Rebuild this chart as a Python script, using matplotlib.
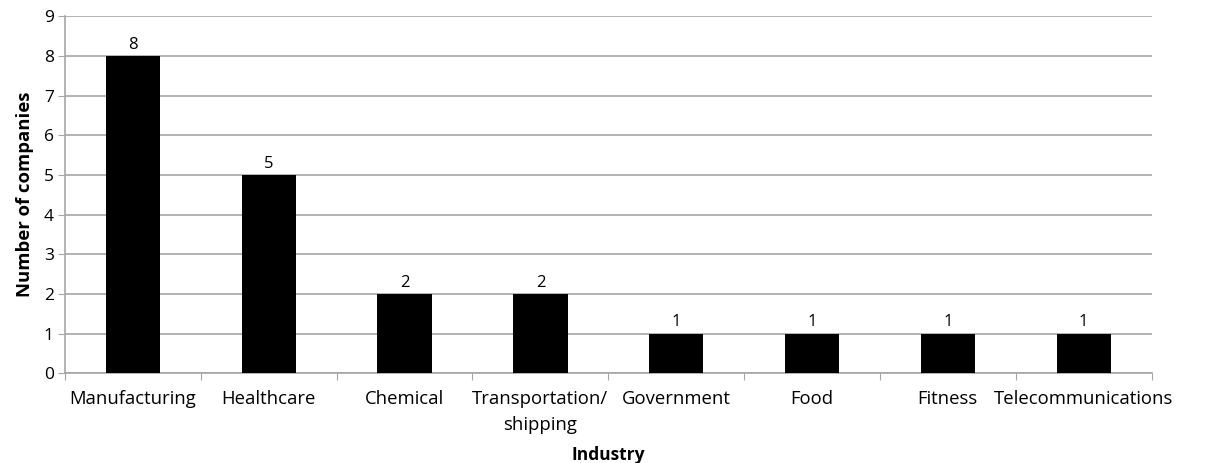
import numpy as np
import matplotlib.pyplot as plt

plt.rcParams['font.family'] = ['Open Sans', 'DejaVu Sans']

industries = ["Manufacturing", "Healthcare", "Chemical", "Transportation/\nshipping",
              "Government", "Food", "Fitness", "Telecommunications"]
counts = [8, 5, 2, 2, 1, 1, 1, 1]

fig = plt.figure(figsize=(12.06, 4.63), dpi=100)
ax = fig.add_axes([0.0539, 0.194, 0.901, 0.771])

x = np.arange(len(industries))
bars = ax.bar(x, counts, width=0.4, color='black', zorder=3)
for xi, c in zip(x, counts):
    ax.text(xi, c + 0.08, str(c), ha='center', va='bottom', fontsize=12)

ax.set_xlim(-0.5, len(industries) - 0.5)
ax.set_ylim(0, 9)
ax.set_yticks(range(10))
ax.yaxis.grid(True, color='#a6a6a6', linewidth=1.2, zorder=0)

# category labels sit between the boundary ticks
ax.set_xticks(np.arange(-0.5, len(industries)), minor=False)
ax.set_xticklabels([])
ax.set_xticks(x, minor=True)
ax.set_xticklabels(industries, minor=True, fontsize=13.3, linespacing=1.55, va='top')
ax.tick_params(axis='x', which='minor', length=0, pad=12)
ax.tick_params(axis='x', which='major', length=5, color='#a6a6a6')
ax.tick_params(axis='y', length=5, color='#a6a6a6', labelsize=12.5, pad=3)

for s in ['top', 'right']:
    ax.spines[s].set_visible(False)
for s in ['left', 'bottom']:
    ax.spines[s].set_color('#a6a6a6')
    ax.spines[s].set_linewidth(1.2)

ax.set_ylabel("Number of companies", fontsize=13.3, fontweight='bold', labelpad=7)
ax.set_xlabel("Industry", fontsize=12.5, fontweight='bold', labelpad=9)

fig.savefig("out.png", dpi=100)
